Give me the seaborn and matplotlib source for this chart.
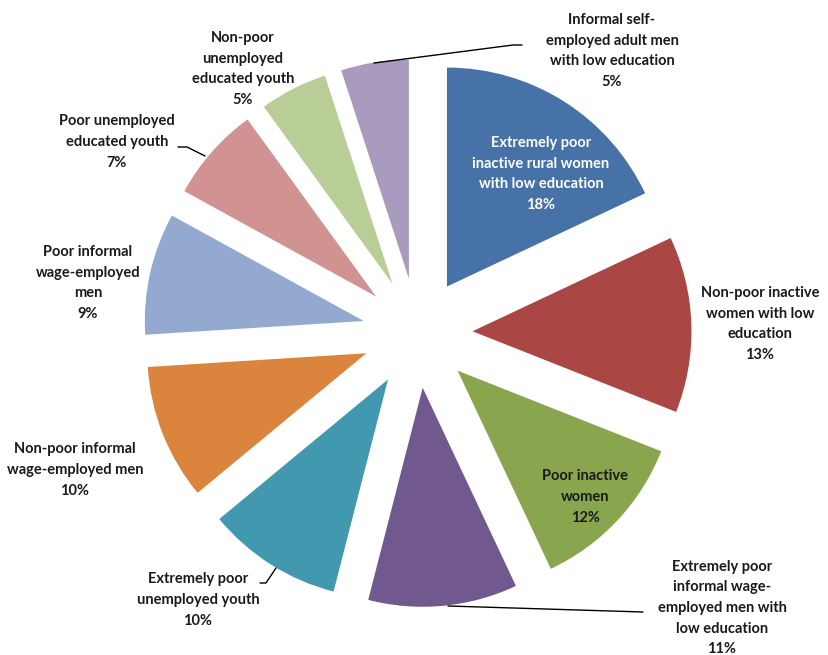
import matplotlib
matplotlib.use("Agg")
import matplotlib.pyplot as plt
import seaborn as sns

# Categorias e participações (%)
categories = [
    "Extremely poor\ninactive rural women\nwith low education",
    "Non-poor inactive\nwomen with low\neducation",
    "Poor inactive\nwomen",
    "Extremely poor\ninformal wage-\nemployed men with\nlow education",
    "Extremely poor\nunemployed youth",
    "Non-poor informal\nwage-employed men",
    "Poor informal\nwage-employed\nmen",
    "Poor unemployed\neducated youth",
    "Non-poor\nunemployed\neducated youth",
    "Informal self-\nemployed adult men\nwith low education",
]
shares = [18, 13, 12, 11, 10, 10, 9, 7, 5, 5]

colors = ["#4672A8", "#AA4744", "#89A54E", "#71588F", "#4198AF",
          "#DB843D", "#93A9CF", "#D19392", "#B9CD96", "#A99BBD"]

sns.set_theme(style="white")
plt.rcParams["font.family"] = ["Lato", "DejaVu Sans"]

W, H = 829, 655
fig = plt.figure(figsize=(W / 100, H / 100), dpi=100)

# pizza em coordenadas de pixel (y para cima)
cx, cy, r = 417.5, 333, 219
pax = fig.add_axes([0, 0, 1, 1])
pax.pie(shares, colors=colors, startangle=90, counterclock=False,
        radius=r, center=(cx, H - cy), explode=[55] * len(shares),
        wedgeprops=dict(linewidth=0), frame=True)
pax.set_xlim(0, W)
pax.set_ylim(0, H)
pax.set_aspect("auto")
pax.axis("off")

# eixo de texto por cima (y para baixo, como na imagem)
ax = fig.add_axes([0, 0, 1, 1])
ax.set_xlim(0, W)
ax.set_ylim(H, 0)
ax.patch.set_alpha(0)
ax.axis("off")

label_pos = [(541, 174), (760, 324), (585, 497), (722, 608), (198, 600),
             (75, 470), (88, 283), (117, 142), (243, 69), (612, 51)]
label_colors = ["white"] + ["#1a1a1a"] * 9

for cat, val, (x, y), c in zip(categories, shares, label_pos, label_colors):
    ax.text(x, y, f"{cat}\n{val}%", ha="center", va="center",
            fontsize=10.5, fontweight="bold", linespacing=1.6,
            color=c, zorder=5)

# linhas de chamada
lw = 1.0
ax.plot([448, 643], [606, 612], color="black", lw=lw)
ax.plot([260, 266, 276], [583, 583, 568], color="black", lw=lw)
ax.plot([178, 187, 205], [147, 147, 156], color="black", lw=lw)
ax.plot([374, 513, 522], [63, 45, 45], color="black", lw=lw)

fig.savefig("out.png", dpi=100, facecolor="white")
